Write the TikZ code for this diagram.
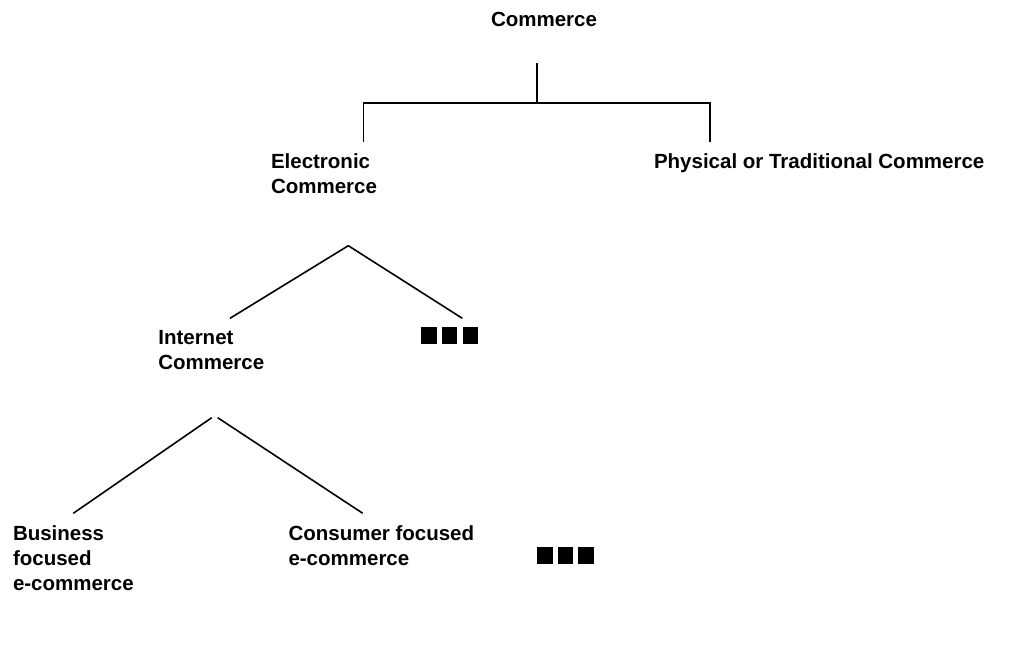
\documentclass[tikz,border=0pt]{standalone}
\usepackage{fontspec}
\setmainfont{Liberation Sans}
\begin{document}
\begin{tikzpicture}[x=1pt,y=-1pt,
  lbl/.style={inner sep=0pt,outer sep=0pt,font=\bfseries\fontsize{20.5}{25}\selectfont,align=left,anchor=base west},
  conn/.style={line width=1.6pt,black},
  sq/.style={fill=black,inner sep=0pt,minimum width=15.6pt,minimum height=16.6pt,draw=none}]
\useasboundingbox[fill=white] (0,0) rectangle (1024,652);
% labels (multi-line nodes are placed by the baseline of their last line)
\node[lbl,anchor=base] (com) at (544,26.5) {Commerce};
\node[lbl] (ec) at (271,193.3) {Electronic\\Commerce};
\node[lbl] (ptc) at (654,168.3) {Physical or Traditional Commerce};
\node[lbl] (ic) at (158.3,369.3) {Internet\\Commerce};
\node[lbl] (bfe) at (13,590.7) {Business\\focused\\e-commerce};
\node[lbl] (cfe) at (288.5,565.7) {Consumer focused\\e-commerce};
% ellipsis squares
\node[sq] (s1) at (428.9,335.7) {};
\node[sq] (s2) at (449.5,335.7) {};
\node[sq] (s3) at (470.3,335.7) {};
\node[sq] (t1) at (545,555.7) {};
\node[sq] (t2) at (565.5,555.7) {};
\node[sq] (t3) at (586.2,555.7) {};
% connector points
\coordinate (comB) at (536.7,63.3);
\coordinate (bar) at (536.7,103.3);
\coordinate (barL) at (363.3,103.3);
\coordinate (barR) at (710,103.3);
\coordinate (ecT) at (363.3,142.3);
\coordinate (ptcT) at (710,142.3);
\coordinate (ecB) at (348.3,245.7);
\coordinate (icT) at (230,318.3);
\coordinate (sT) at (462.3,318.3);
\coordinate (icBL) at (211.7,417.7);
\coordinate (icBR) at (217.7,417.7);
\coordinate (bfeT) at (73.3,513.3);
\coordinate (cfeT) at (362.7,513.3);
% connectors
\draw[conn] (comB) -- (bar);
\draw[conn] (ecT) -- (barL) -- (barR) -- (ptcT);
\draw[conn] (icT) -- (ecB) -- (sT);
\draw[conn] (icBL) -- (bfeT);
\draw[conn] (icBR) -- (cfeT);
\end{tikzpicture}
\end{document}
